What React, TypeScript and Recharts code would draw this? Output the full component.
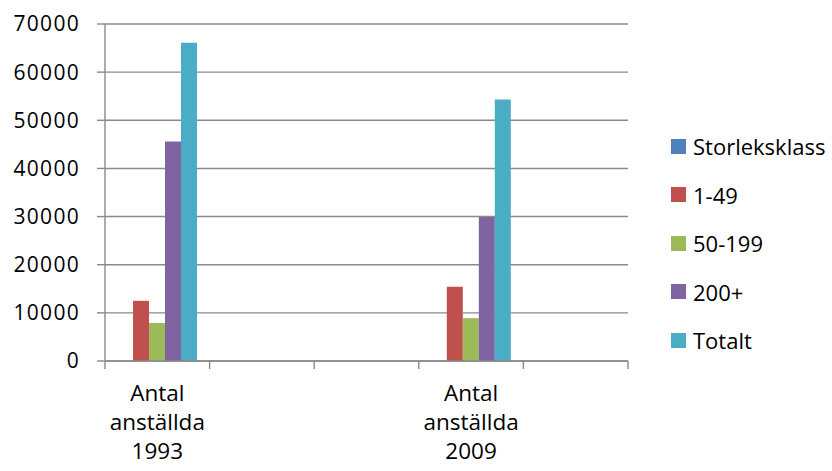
import { BarChart, Bar, XAxis, YAxis, CartesianGrid, Legend } from 'recharts';

const categories = ['Antal anställda 1993', '', '', 'Antal anställda 2009', ''];
const storleksklass = [0, 0, 0, 0, 0];
const size1to49 = [12500, 0, 0, 15400, 0];
const size50to199 = [7900, 0, 0, 8900, 0];
const size200plus = [45600, 0, 0, 29900, 0];
const totalt = [66100, 0, 0, 54300, 0];
const yTicks = [0, 10000, 20000, 30000, 40000, 50000, 60000, 70000];

const SERIES = [
  { key: 'storleksklass', name: 'Storleksklass', color: '#4F81BD' },
  { key: 'a', name: '1-49', color: '#C0504D' },
  { key: 'b', name: '50-199', color: '#9BBB59' },
  { key: 'c', name: '200+', color: '#8064A2' },
  { key: 'totalt', name: 'Totalt', color: '#4BACC6' },
];

const data = categories.map((cat, i) => ({
  cat: cat || `__${i}`,
  label: cat,
  storleksklass: storleksklass[i],
  a: size1to49[i],
  b: size50to199[i],
  c: size200plus[i],
  totalt: totalt[i],
}));

const FONT = '"Open Sans", sans-serif';
const GRID = '#8a8a8a';
const TICK = 8;

// Excel-style: tick marks sit on category boundaries, label in the middle
function CategoryTick({ x, y, payload, index, visibleTicksCount }: any) {
  const row = data.find((d) => d.cat === payload.value);
  const label = row ? row.label : '';
  const half = payload.offset || 0;
  const axisY = y - TICK;
  const isLast = index === (visibleTicksCount ?? data.length) - 1;
  const words = label ? label.split(' ') : [];
  return (
    <g>
      <line x1={x - half} x2={x - half} y1={axisY} y2={axisY + TICK} stroke={GRID} strokeWidth={1.4} />
      {isLast && (
        <line x1={x + half} x2={x + half} y1={axisY} y2={axisY + TICK} stroke={GRID} strokeWidth={1.4} />
      )}
      {words.length > 0 && (
        <text x={x} y={y + 32} textAnchor="middle" fontFamily={FONT} fontSize={22.5} fill="#000">
          {words.map((w, i) => (
            <tspan key={i} x={x} dy={i === 0 ? 0 : 29}>{w}</tspan>
          ))}
        </text>
      )}
    </g>
  );
}

function LegendList() {
  return (
    <div style={{ fontFamily: FONT, fontSize: 22, color: '#000' }}>
      {SERIES.map((s) => (
        <div key={s.key} style={{ display: 'flex', alignItems: 'center', height: 48.5 }}>
          <span style={{ width: 15, height: 15, background: s.color, marginRight: 7, flexShrink: 0 }} />
          <span style={{ whiteSpace: 'nowrap' }}>{s.name}</span>
        </div>
      ))}
    </div>
  );
}

export default function App() {
  return (
    <div style={{ position: 'absolute', left: 0, top: 0, width: 832, height: 471, background: '#fff' }}>
      <BarChart
        width={832}
        height={471}
        data={data}
        margin={{ top: 24, right: 43, left: 0, bottom: 0 }}
        barCategoryGap={12}
        barGap={0}
      >
        <CartesianGrid vertical={false} stroke={GRID} strokeWidth={1.4} />
        <XAxis
          dataKey="cat"
          interval={0}
          height={110}
          axisLine={{ stroke: GRID, strokeWidth: 1.4 }}
          tickLine={false}
          tickSize={TICK}
          tickMargin={0}
          tick={<CategoryTick />}
        />
        <YAxis
          domain={[0, 70000]}
          ticks={yTicks}
          width={105}
          interval={0}
          axisLine={{ stroke: GRID, strokeWidth: 1.4 }}
          tickLine={{ stroke: GRID, strokeWidth: 1.4 }}
          tickSize={TICK}
          tickMargin={17}
          tick={{ fontFamily: FONT, fontSize: 21, fill: '#000', letterSpacing: 1.3 }}
        />
        <Legend
          layout="vertical"
          align="right"
          verticalAlign="middle"
          content={<LegendList />}
          wrapperStyle={{ left: 671, top: 122, width: 161 }}
        />
        {SERIES.map((s) => (
          <Bar key={s.key} dataKey={s.key} name={s.name} fill={s.color} isAnimationActive={false} />
        ))}
      </BarChart>
    </div>
  );
}
